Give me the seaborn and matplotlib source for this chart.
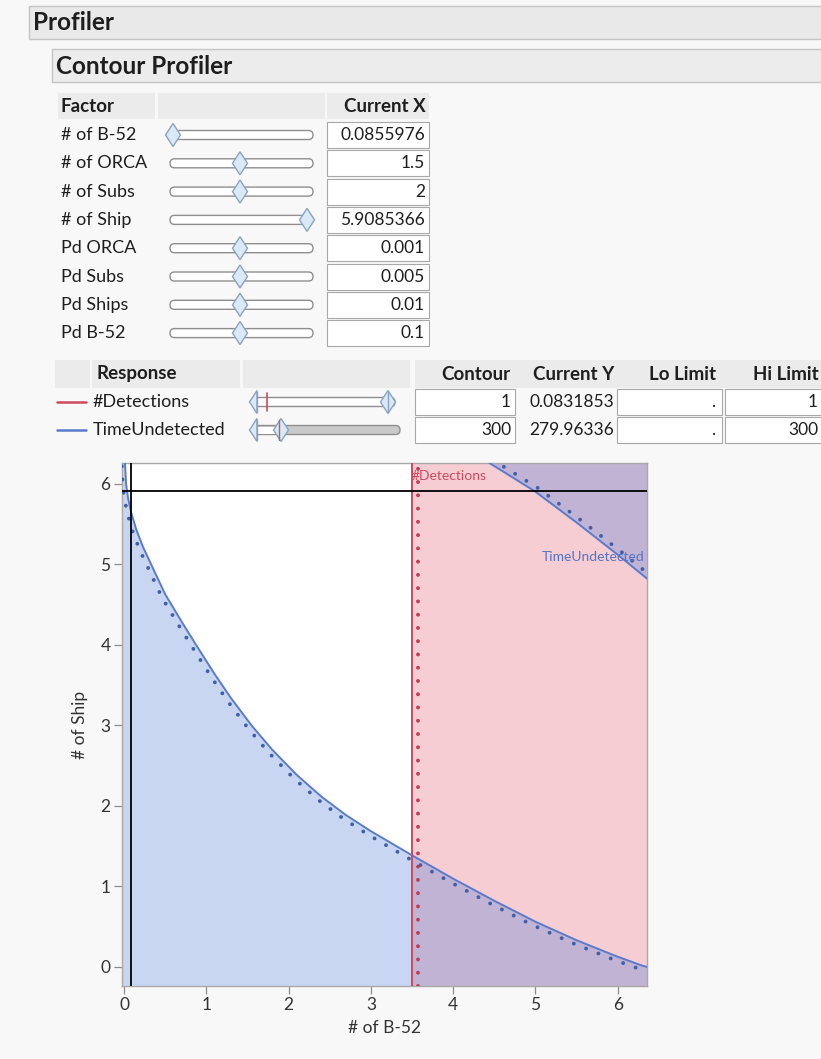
import numpy as np
import pandas as pd
import matplotlib
matplotlib.use("Agg")
import matplotlib.pyplot as plt
import seaborn as sns
from matplotlib.patches import Rectangle, FancyBboxPatch, Polygon
from matplotlib.transforms import ScaledTranslation

# ---------------- data ----------------
factor_names = ["# of B-52", "# of ORCA", "# of Subs", "# of Ship",
                "Pd ORCA", "Pd Subs", "Pd Ships", "Pd B-52"]
factor_current_x = ["0.0855976", "1.5", "2", "5.9085366",
                    "0.001", "0.005", "0.01", "0.1"]
factor_slider_pos = [0.0, 0.5, 0.5, 1.0, 0.5, 0.5, 0.5, 0.5]

response_names = ["#Detections", "TimeUndetected"]
response_contour = ["1", "300"]
response_current_y = ["0.0831853", "279.96336"]
response_lo_limit = [".", "."]
response_hi_limit = ["1", "300"]

b52_current = 0.0855976
ship_current = 5.9085366
detections_contour_b52 = 3.50

time_lower_b52 = [0.012, 0.025, 0.05, 0.086, 0.15, 0.23, 0.33, 0.5, 0.7, 0.87,
                  1.1, 1.3, 1.55, 1.8, 2.1, 2.4, 2.7, 3.0, 3.5, 4.0,
                  4.5, 5.0, 5.5, 6.0, 6.3, 6.36]
time_lower_ship = [6.26, 6.0, 5.82, 5.65, 5.43, 5.22, 5.0, 4.63, 4.29, 4.01,
                   3.64, 3.34, 3.0, 2.70, 2.385, 2.115, 1.885, 1.687, 1.387, 1.097,
                   0.822, 0.562, 0.332, 0.127, 0.016, 0.0]
time_upper_b52 = [4.44, 4.99, 5.5, 6.0, 6.36]
time_upper_ship = [6.26, 5.91, 5.52, 5.12, 4.82]

x_ticks = [0, 1, 2, 3, 4, 5, 6]
y_ticks = [0, 1, 2, 3, 4, 5, 6]
x_range = (-0.028, 6.355)
y_range = (-0.236, 6.26)

# ---------------- style ----------------
sns.set_style("white")
plt.rcParams['font.family'] = ['Lato', 'DejaVu Sans']

W, H = 821, 1059
BG = '#f8f8f8'
HDR = '#ebebeb'
TXT = '#1e1e1e'
RED = '#cf4a5e'
RED_DOT = '#c23b55'
BLUE = '#5a7bcc'
BLUE_DOT = '#3f5fa8'

fig = plt.figure(figsize=(W / 100, H / 100), dpi=100, facecolor=BG)
ui = fig.add_axes([0, 0, 1, 1], zorder=0)
ui.set_xlim(0, W)
ui.set_ylim(H, 0)
ui.axis('off')


def rect(x0, y0, x1, y1, fc, ec='none', lw=0.8, z=1):
    ui.add_patch(Rectangle((x0, y0), x1 - x0, y1 - y0, facecolor=fc,
                           edgecolor=ec, linewidth=lw, zorder=z))


def diamond(xc, yc, w=15, h=23, z=4):
    ui.add_patch(Polygon([(xc - w / 2, yc), (xc, yc - h / 2), (xc + w / 2, yc), (xc, yc + h / 2)],
                         closed=True, fc='#dbe8f5', ec='#8aa3c0', lw=1.0, zorder=z))


def half_diamond(xc, yc, w=15, h=23, z=4):
    ui.add_patch(Polygon([(xc, yc - h / 2), (xc - w / 2, yc), (xc, yc + h / 2)],
                         closed=True, fc='#dbe8f5', ec='#8aa3c0', lw=1.0, zorder=z))


def track(x0, x1, yc, h=9, fc='white', z=3):
    ui.add_patch(FancyBboxPatch((x0, yc - h / 2), x1 - x0, h,
                                boxstyle=f"round,pad=0,rounding_size={h / 2}",
                                fc=fc, ec='#8e8e8e', lw=1.0, zorder=z))


def txt(x, y, s, ha='left', size=13, weight='normal', color=TXT):
    ui.text(x, y, s, ha=ha, va='center', fontsize=size, fontweight=weight, color=color, zorder=6)


# title bars
rect(29, 6, W + 5, 39, '#e9e9e9', '#c4c4c4', 1.0)
txt(33, 22.5, "Profiler", size=17.5, weight='bold')
rect(52, 49, W + 5, 82, '#ececec', '#c4c4c4', 1.0)
txt(56, 66, "Contour Profiler", size=17.5, weight='bold')

# factor table header
rect(58, 93, 155, 119, HDR)
rect(158, 93, 325, 119, HDR)
rect(327, 93, 429, 119, HDR)
txt(61, 106, "Factor", size=13.5, weight='bold')
txt(426, 106, "Current X", ha='right', size=13.5, weight='bold')

row_y0 = 135
row_dy = 28.3
for i, (name, val, pos) in enumerate(zip(factor_names, factor_current_x, factor_slider_pos)):
    yc = row_y0 + i * row_dy
    txt(61, yc, name, size=13)
    track(170, 313, yc)
    diamond(173 + pos * (307 - 173), yc)
    rect(327, yc - 13, 429, yc + 13, 'white', '#a8a8a8', 0.8)
    txt(425, yc, val, ha='right', size=12.5)

# response table header
rect(55, 360, 90, 388, HDR)
rect(92, 360, 240, 388, HDR)
rect(243, 360, 410, 388, HDR)
rect(415, 360, W + 5, 388, HDR)
txt(97, 374, "Response", size=13.5, weight='bold')
txt(510, 374, "Contour", ha='right', size=13.5, weight='bold')
txt(614, 374, "Current Y", ha='right', size=13.5, weight='bold')
txt(716, 374, "Lo Limit", ha='right', size=13.5, weight='bold')
txt(819, 374, "Hi Limit", ha='right', size=13.5, weight='bold')

resp_colors = [RED, BLUE]
resp_y = [402, 430]
for i, name in enumerate(response_names):
    yc = resp_y[i]
    ui.plot([57, 86], [yc, yc], color=resp_colors[i], lw=1.8, zorder=5)
    txt(93, yc, name, size=13)
    rect(415, yc - 13, 515, yc + 13, 'white', '#a8a8a8', 0.8)
    txt(511, yc, response_contour[i], ha='right', size=12.5)
    txt(614, yc, response_current_y[i], ha='right', size=12.5)
    rect(617, yc - 13, 722, yc + 13, 'white', '#a8a8a8', 0.8)
    txt(715, yc, response_lo_limit[i], ha='right', size=12.5)
    rect(725, yc - 13, W + 5, yc + 13, 'white', '#a8a8a8', 0.8)
    txt(818, yc, response_hi_limit[i], ha='right', size=12.5)

# #Detections slider
track(252, 395, resp_y[0])
half_diamond(257, resp_y[0])
ui.plot([257, 257], [resp_y[0] - 10, resp_y[0] + 10], color='#8aa3c0', lw=1, zorder=5)
diamond(388, resp_y[0])
ui.plot([388, 388], [resp_y[0] - 10, resp_y[0] + 10], color='#8aa3c0', lw=1, zorder=5)
ui.plot([267, 267], [resp_y[0] - 9, resp_y[0] + 9], color=RED, lw=1.2, zorder=6)
# TimeUndetected slider
track(252, 400, resp_y[1], fc='#c9c9c9')
ui.add_patch(Rectangle((256, resp_y[1] - 3.5), 22, 7, fc='white', ec='none', zorder=3.5))
half_diamond(257, resp_y[1])
ui.plot([257, 257], [resp_y[1] - 10, resp_y[1] + 10], color='#8aa3c0', lw=1, zorder=5)
diamond(281, resp_y[1])
ui.plot([279, 279], [resp_y[1] - 10, resp_y[1] + 10], color='#b0617a', lw=1, zorder=5)

# ---------------- contour plot ----------------
px0, px1, py0, py1 = 121.7, 647, 463, 986
ax = fig.add_axes([px0 / W, 1 - py1 / H, (px1 - px0) / W, (py1 - py0) / H], zorder=2)
ax.set_facecolor('white')
ax.set_xlim(*x_range)
ax.set_ylim(*y_range)

# #Detections > 1 shading (pink)
ax.axvspan(detections_contour_b52, x_range[1], color='#f5cdd3', lw=0, zorder=1)
# TimeUndetected shading (blue, translucent -> purple on pink)
lx = [x_range[0]] + time_lower_b52 + [x_range[1], x_range[0]]
ly = [y_range[1]] + time_lower_ship + [y_range[0], y_range[0]]
ax.fill(lx, ly, color='#4a7ad4', alpha=0.3, lw=0, zorder=2)
ux = time_upper_b52 + [x_range[1]]
uy = time_upper_ship + [y_range[1]]
ax.fill(ux, uy, color='#4a7ad4', alpha=0.3, lw=0, zorder=2)

# contour lines
df_lo = pd.DataFrame({"b52": time_lower_b52, "ship": time_lower_ship})
df_hi = pd.DataFrame({"b52": time_upper_b52, "ship": time_upper_ship})
DOTS = (0, (0.01, 3.4))

for df, sgn in ((df_lo, -1), (df_hi, 1)):
    sns.lineplot(data=df, x="b52", y="ship", sort=False, estimator=None,
                 color=BLUE, lw=1.4, ax=ax, zorder=4)
    sns.lineplot(data=df, x="b52", y="ship", sort=False, estimator=None,
                 color=BLUE_DOT, lw=2.8, ax=ax, zorder=4)
    dl = ax.lines[-1]
    dl.set_linestyle(DOTS)
    dl.set_dash_capstyle('round')
    dl.set_transform(ax.transData + ScaledTranslation(sgn * 3.2 / 100, sgn * 3.2 / 100, fig.dpi_scale_trans))

ax.axvline(detections_contour_b52, color=RED, lw=1.4, zorder=4)
rl = ax.axvline(detections_contour_b52, color=RED_DOT, lw=2.8, zorder=4)
rl.set_linestyle(DOTS)
rl.set_dash_capstyle('round')
rl.set_transform(rl.get_transform() + ScaledTranslation(5.5 / 100, 0, fig.dpi_scale_trans))

# crosshair
ax.axvline(b52_current, color='black', lw=1.3, zorder=5)
ax.axhline(ship_current, color='black', lw=1.3, zorder=5)

ax.text(detections_contour_b52, 6.10, "#Detections", color=RED, fontsize=10,
        ha='left', va='center', zorder=6)
ax.text(6.33, 5.09, "TimeUndetected", color='#5573c4', fontsize=10,
        ha='right', va='center', zorder=6)

ax.set_xticks(x_ticks)
ax.set_yticks(y_ticks)
ax.tick_params(axis='both', direction='out', length=6, width=0.9, color='#8c8c8c',
               labelsize=12.5, labelcolor='#333333', pad=2, left=True, bottom=True)
for s in ax.spines.values():
    s.set_color('#a9a9a9')
    s.set_linewidth(1.0)
ax.set_xlabel("# of B-52", fontsize=12.5, color='#333333', labelpad=5)
ax.set_ylabel("# of Ship", fontsize=12.5, color='#333333', labelpad=9)
ax.grid(False)

fig.savefig("out.png", dpi=100, facecolor=BG)
